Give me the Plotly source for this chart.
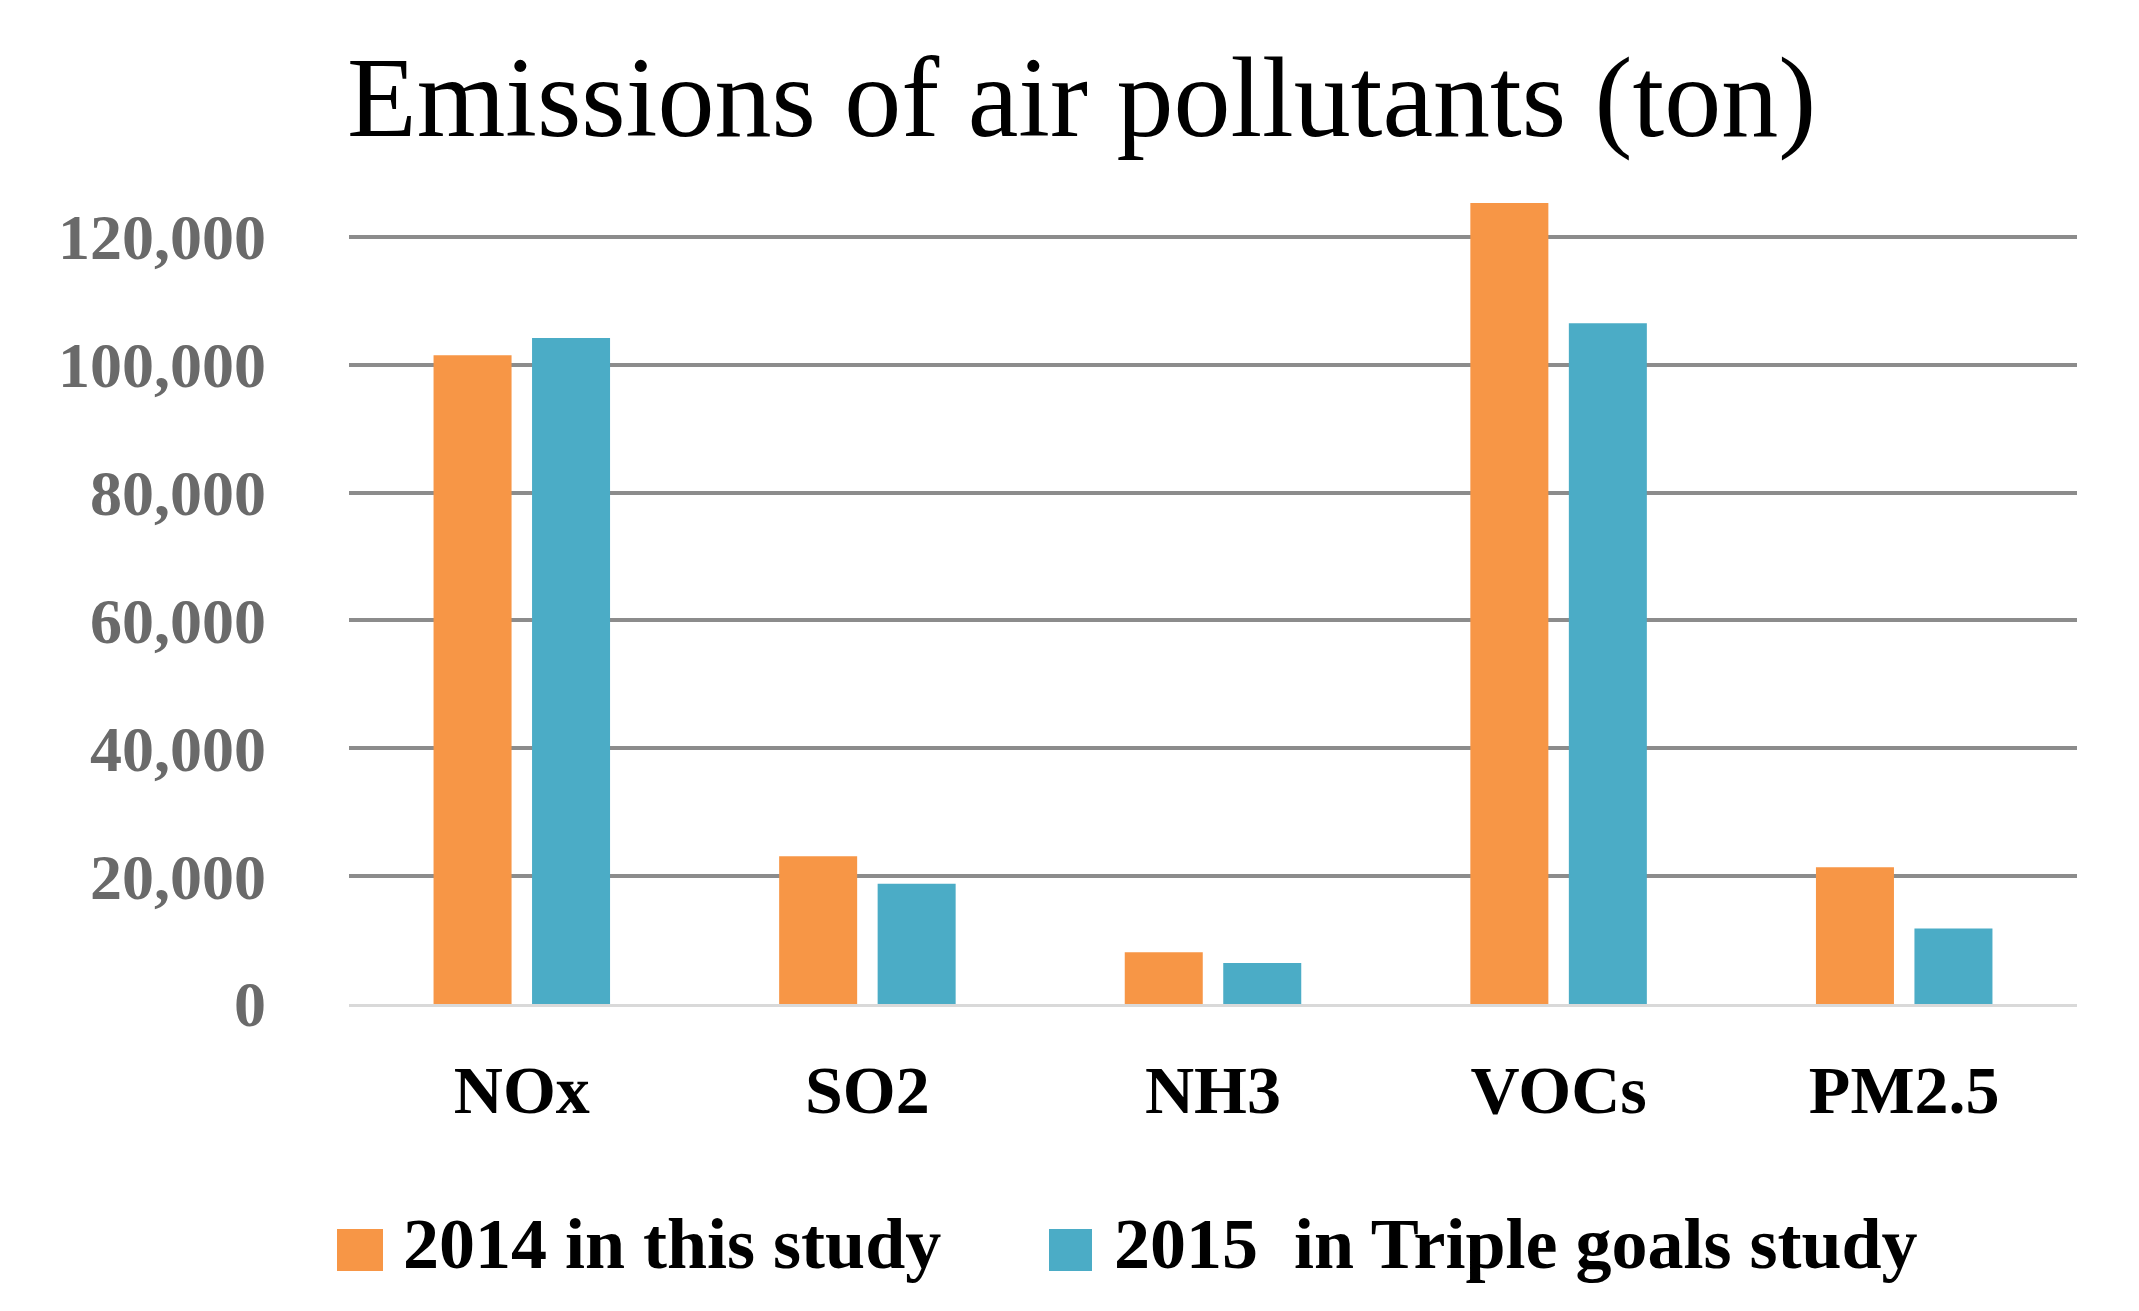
import plotly.graph_objects as go

categories = ["NOx", "SO2", "NH3", "VOCs", "PM2.5"]
series_names = ["2014 in this study", "2015&nbsp; in Triple goals study"]
values_2014 = [101500, 23100, 8100, 125300, 21400]
values_2015 = [104200, 18800, 6400, 106500, 11800]
colors = ["#F79646", "#4BACC6"]
y_ticks = [0, 20000, 40000, 60000, 80000, 100000, 120000]

W, H = 2139, 1311
L, R, T, B = 341, 70, 165, 315
pw, ph = W - L - R, H - T - B

def px_x(p):
    return (p - L) / pw

def px_y(p):
    return (H - B - p) / ph

FONT = "Liberation Serif"

fig = go.Figure()
for name, vals, col in zip(series_names, [values_2014, values_2015], colors):
    fig.add_trace(go.Bar(x=categories, y=vals, name=name, marker_color=col,
                         marker_line_width=0, showlegend=False))

fig.update_layout(
    width=W, height=H,
    margin=dict(l=L, r=R, t=T, b=B),
    paper_bgcolor="white", plot_bgcolor="white",
    barmode="group", bargap=0.43, bargroupgap=0.208,
    title=dict(text="Emissions of air pollutants (ton)", x=339 / W, xanchor="left",
               xref="container", y=1 - 88 / H, yanchor="middle", yref="container",
               font=dict(family=FONT, size=114, color="black")),
    font=dict(family=FONT),
)
fig.update_xaxes(showgrid=False, showline=True, linecolor="#d9d9d9", linewidth=3,
                 ticks="", ticklabelstandoff=24,
                 tickfont=dict(family=FONT, size=68, color="black", weight="bold"))
fig.update_yaxes(range=[0, 130000], tickvals=y_ticks, tickformat=",",
                 showgrid=True, gridcolor="#8c8c8c", gridwidth=4,
                 zeroline=False, showline=False, ticks="", ticklabelstandoff=82,
                 tickfont=dict(family=FONT, size=64, color="#6a6a6a", weight="bold"))

# legend drawn to match the reference's large square keys
legend_items = [(329, 375, 393), (1041, 1084, 1104)]
for (x0, x1, tx), name, col in zip(legend_items, series_names, colors):
    fig.add_shape(type="rect", xref="paper", yref="paper",
                  x0=px_x(x0), x1=px_x(x1), y0=px_y(1263), y1=px_y(1221),
                  fillcolor=col, line_width=0)
    fig.add_annotation(text=name, xref="paper", yref="paper", x=px_x(tx), y=px_y(1236),
                       xanchor="left", yanchor="middle", showarrow=False,
                       font=dict(family=FONT, size=72, color="black", weight="bold"))

fig.write_html("out.html")
